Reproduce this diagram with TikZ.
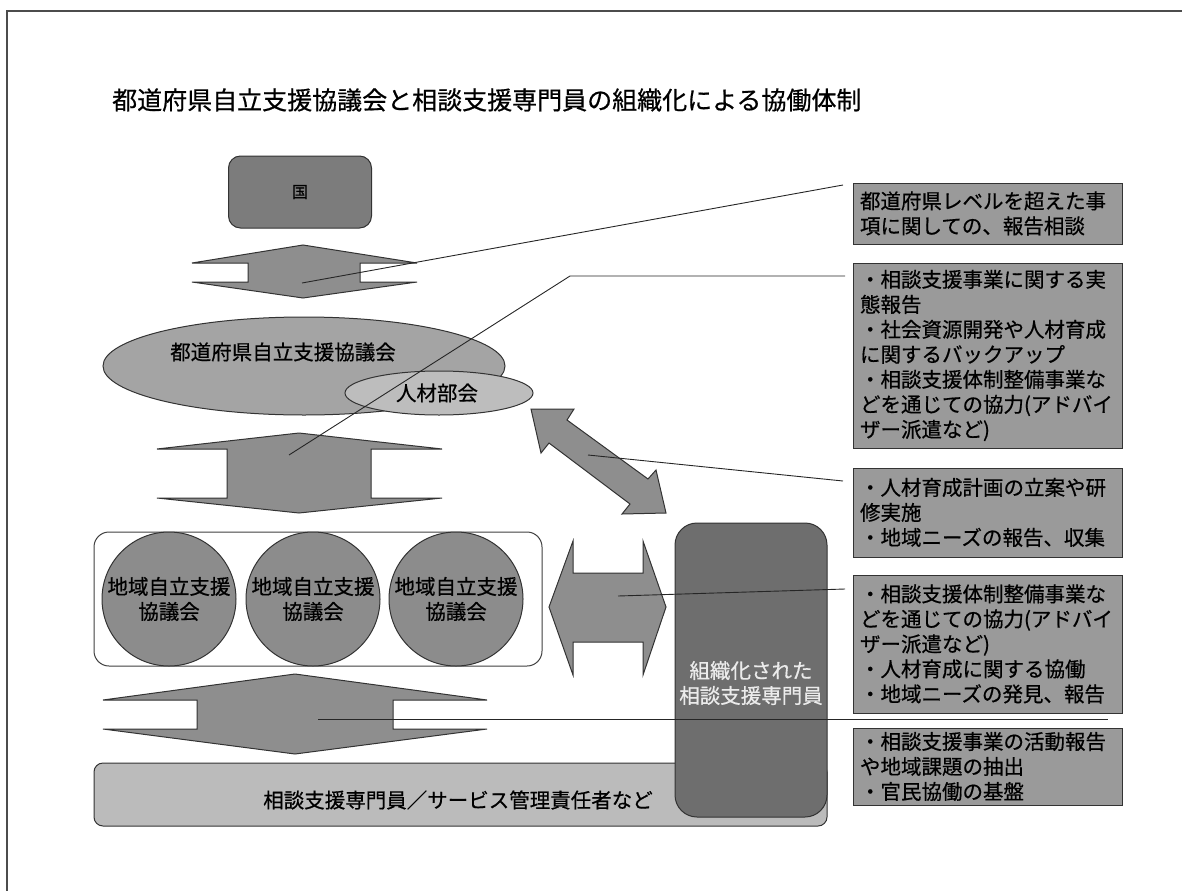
\documentclass[tikz,border=0pt]{standalone}
\usepackage{fontspec}
\usetikzlibrary{shapes.geometric}
\setmainfont{Noto Sans CJK JP}[FakeBold=0.6]
\definecolor{arrowgray}{HTML}{8E8E8E}
\definecolor{kunigray}{HTML}{7C7C7C}
\definecolor{orggray}{HTML}{6E6E6E}
\definecolor{ellgray}{HTML}{A4A4A4}
\definecolor{subgray}{HTML}{BDBDBD}
\definecolor{bandgray}{HTML}{BBBBBB}
\definecolor{circgray}{HTML}{8C8C8C}
\definecolor{boxgray}{HTML}{9A9A9A}
\begin{document}
\begin{tikzpicture}[x=1pt,y=-1pt,
  outl/.style={draw=black!80, line width=1pt},
  arrowshape/.style={outl, fill=arrowgray, line join=miter},
  conn/.style={draw=black!85, line width=0.9pt},
  jtxt/.style={font=\fontsize{20.5}{25}\selectfont, inner sep=0pt},
  rbox/.style={draw=black!80, line width=1pt, fill=boxgray, minimum width=269pt, text width=255pt, inner xsep=7pt, inner ysep=0pt, align=left, font=\fontsize{20.5}{25}\selectfont},
  circ/.style={circle, outl, fill=circgray, minimum size=134pt, inner sep=0pt, align=center, font=\fontsize{20.5}{25}\selectfont}
]
\useasboundingbox (0,0) rectangle (1182,891);
% frame
\draw[draw=black!70, line width=1.5pt] (1182,11) -- (7,11) -- (7,891);
% title
\node[anchor=west, inner sep=0pt, font=\fontsize{25}{30}\selectfont] (title) at (112,100) {都道府県自立支援協議会と相談支援専門員の組織化による協働体制};
% 国
\node[outl, fill=kunigray, rounded corners=12pt, minimum width=143pt, minimum height=72pt, font=\fontsize{16}{18}\selectfont] (kuni) at (300,192) {国};
% arrow 1
\draw[arrowshape] (303,245) -- (417,263) -- (360,263) -- (360,282) -- (417,282) -- (303,298) -- (192,282) -- (248,282) -- (248,263) -- (192,263) -- cycle;
\coordinate (a1) at (302,283);
% ellipses
\node[ellipse, outl, fill=ellgray, minimum width=402pt, minimum height=98pt, inner sep=0pt] (pref) at (304,366) {};
\node[jtxt] (preftxt) at (283,352) {都道府県自立支援協議会};
\node[ellipse, outl, fill=subgray, minimum width=188pt, minimum height=44pt, inner sep=0pt] (jinzai) at (439,393) {};
\node[jtxt] (jinzaitxt) at (437,393) {人材部会};
% arrow 2
\draw[arrowshape] (299,433) -- (442,449) -- (371,449) -- (371,498) -- (442,498) -- (299,513) -- (157,498) -- (227,498) -- (227,449) -- (157,449) -- cycle;
\coordinate (a2) at (289,455);
% diagonal arrow
\draw[arrowshape] (531,409) -- (574,409) -- (567,420) -- (648,479) -- (656,470) -- (666,513) -- (622,514) -- (630,504) -- (549,443) -- (541,453) -- cycle;
\coordinate (a3) at (588,455);
% region box with circles
\draw[draw=black!75, line width=1pt, fill=white, rounded corners=15pt] (94,532) rectangle (542,666);
\node[circ] (c1) at (169,599) {地域自立支援\\協議会};
\node[circ] (c2) at (313,599) {地域自立支援\\協議会};
\node[circ] (c3) at (456,599) {地域自立支援\\協議会};
% left-right arrow
\draw[arrowshape] (549,607) -- (573,541) -- (573,573) -- (643,573) -- (643,541) -- (666,607) -- (643,675) -- (643,642) -- (573,642) -- (573,675) -- cycle;
\coordinate (a4) at (618,596);
% bottom band
\draw[outl, fill=bandgray, rounded corners=9pt] (94,763) rectangle (827,826);
\node[jtxt] (band) at (458,800) {相談支援専門員／サービス管理責任者など};
% bottom arrow
\draw[arrowshape] (295,674) -- (487,700) -- (393,700) -- (393,729) -- (487,729) -- (295,754) -- (103,729) -- (197,729) -- (197,700) -- (103,700) -- cycle;
\coordinate (a5) at (318,719);
% organised specialists
\node[outl, fill=orggray, rounded corners=22pt, minimum width=152pt, minimum height=294pt, inner sep=0pt] (org) at (751,670) {};
\node[jtxt, text=white!92!black, align=center] (orgtxt) at (751,683) {組織化された\\相談支援専門員};
% right boxes
\node[rbox, minimum height=61pt] (b1) at (987.5,213.5) {都道府県レベルを超えた事\\項に関しての、報告相談};
\node[rbox, minimum height=185pt] (b2) at (987.5,355.5) {・相談支援事業に関する実\\態報告\\・社会資源開発や人材育成\\に関するバックアップ\\・相談支援体制整備事業な\\どを通じての協力(アドバイ\\ザー派遣など)};
\node[rbox, minimum height=89pt] (b3) at (987.5,512.5) {・人材育成計画の立案や研\\修実施\\・地域ニーズの報告、収集};
\node[rbox, minimum height=138pt] (b4) at (987.5,644) {・相談支援体制整備事業な\\どを通じての協力(アドバイ\\ザー派遣など)\\・人材育成に関する協働\\・地域ニーズの発見、報告};
\node[rbox, minimum height=77pt] (b5) at (987.5,766.5) {・相談支援事業の活動報告\\や地域課題の抽出\\・官民協働の基盤};
% connector ends
\coordinate (e1) at (843,185);
\coordinate (k2) at (570,276);
\coordinate (e2) at (845,276);
\coordinate (e3) at (843,481);
\coordinate (e4) at (845,589);
\coordinate (e5) at (1108,719);
% connectors
\draw[conn] (a1) -- (e1);
\draw[conn] (a2) -- (k2) -- (e2);
\draw[conn] (a3) -- (e3);
\draw[conn] (a4) -- (e4);
\draw[conn] (a5) -- (e5);
\end{tikzpicture}
\end{document}
